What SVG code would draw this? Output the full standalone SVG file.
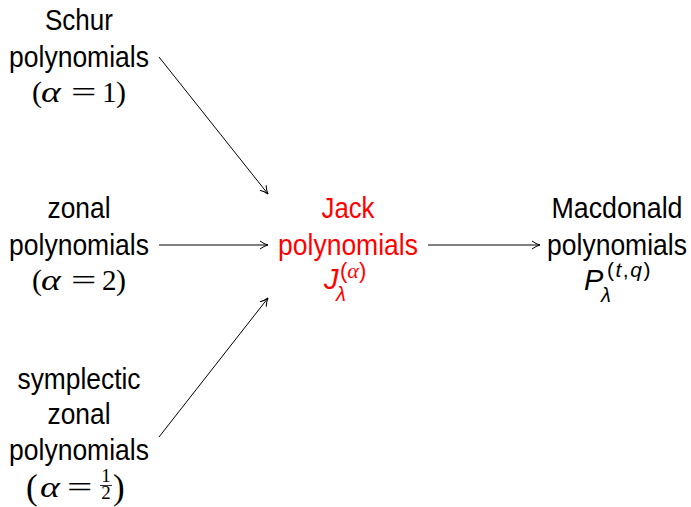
<svg xmlns="http://www.w3.org/2000/svg" width="691" height="507" viewBox="0 0 691 507">
<style>
.t{font-family:"Liberation Sans",Arial,sans-serif;font-size:29px;fill:#000;text-anchor:middle}
.m{font-family:"Liberation Serif","DejaVu Serif",serif;fill:#000}
.mi{font-style:italic}
.s{font-family:"Liberation Sans",Arial,sans-serif;fill:#000}
.red{fill:#ff0000}
.c{stroke:#000;stroke-width:1;fill:none}
</style>
<defs>
<marker id="ah" viewBox="0 0 10 10" refX="9" refY="5" markerWidth="10" markerHeight="10" markerUnits="userSpaceOnUse" orient="auto">
<path d="M1,1 Q5,4 9,5 Q5,6 1,9" fill="none" stroke="#000" stroke-width="1"/>
</marker>
</defs>
<g id="schur">
<text class="t" x="79" y="30" textLength="68" lengthAdjust="spacingAndGlyphs">Schur</text>
<text class="t" x="79" y="67" textLength="140" lengthAdjust="spacingAndGlyphs">polynomials</text>
<text class="m" x="32" y="102" font-size="30">(</text>
<text class="m mi" font-size="29" transform="translate(41,102) scale(1.3,1)">α</text>
<text class="m" font-size="29" transform="translate(71,102) scale(1.55,1)">=</text>
<text class="m" x="102" y="102" font-size="29">1</text>
<text class="m" x="116" y="102" font-size="30">)</text>
</g>
<g id="zonal">
<text class="t" x="79" y="218" textLength="63" lengthAdjust="spacingAndGlyphs">zonal</text>
<text class="t" x="79" y="255" textLength="140" lengthAdjust="spacingAndGlyphs">polynomials</text>
<text class="m" x="32" y="290" font-size="30">(</text>
<text class="m mi" font-size="29" transform="translate(41,290) scale(1.3,1)">α</text>
<text class="m" font-size="29" transform="translate(71,290) scale(1.55,1)">=</text>
<text class="m" x="102" y="290" font-size="29">2</text>
<text class="m" x="116" y="290" font-size="30">)</text>
</g>
<g id="symplectic">
<text class="t" x="79" y="389" textLength="123" lengthAdjust="spacingAndGlyphs">symplectic</text>
<text class="t" x="79" y="424" textLength="63" lengthAdjust="spacingAndGlyphs">zonal</text>
<text class="t" x="79" y="460" textLength="140" lengthAdjust="spacingAndGlyphs">polynomials</text>
<text class="m" x="26" y="499" font-size="35">(</text>
<text class="m mi" font-size="29" transform="translate(40,497) scale(1.3,1)">α</text>
<text class="m" font-size="29" transform="translate(67,497) scale(1.55,1)">=</text>
<text class="m" x="106" y="482" font-size="19" text-anchor="middle">1</text>
<line x1="100" y1="485.5" x2="112" y2="485.5" stroke="#000" stroke-width="0.8"/>
<text class="m" x="106" y="499" font-size="19" text-anchor="middle">2</text>
<text class="m" x="113" y="499" font-size="35">)</text>
</g>
<g id="jack">
<text class="t red" x="348" y="218" textLength="53" lengthAdjust="spacingAndGlyphs">Jack</text>
<text class="t red" x="348" y="255" textLength="140" lengthAdjust="spacingAndGlyphs">polynomials</text>
<text class="s red mi" x="324" y="289" font-size="29">J</text>
<text class="s red mi" x="336" y="301" font-size="20">λ</text>
<text class="s red" x="340" y="278" font-size="22">(<tspan class="m red mi" font-size="22">α</tspan>)</text>
</g>
<g id="macdonald">
<text class="t" x="617" y="218" textLength="131" lengthAdjust="spacingAndGlyphs">Macdonald</text>
<text class="t" x="617" y="255" textLength="140" lengthAdjust="spacingAndGlyphs">polynomials</text>
<text class="s mi" x="584" y="290" font-size="29">P</text>
<text class="s mi" x="601" y="302" font-size="20">λ</text>
<text class="s" x="607" y="277" font-size="21" letter-spacing="1.5">(<tspan font-style="italic">t</tspan>,<tspan font-style="italic">q</tspan>)</text>
</g>
<g id="connectors">
<line class="c" x1="159" y1="57" x2="268" y2="194" marker-end="url(#ah)"/>
<line class="c" x1="159" y1="245" x2="268" y2="245" marker-end="url(#ah)"/>
<line class="c" x1="159" y1="437" x2="268" y2="298" marker-end="url(#ah)"/>
<line class="c" x1="428" y1="245" x2="540" y2="245" marker-end="url(#ah)"/>
</g>
</svg>
